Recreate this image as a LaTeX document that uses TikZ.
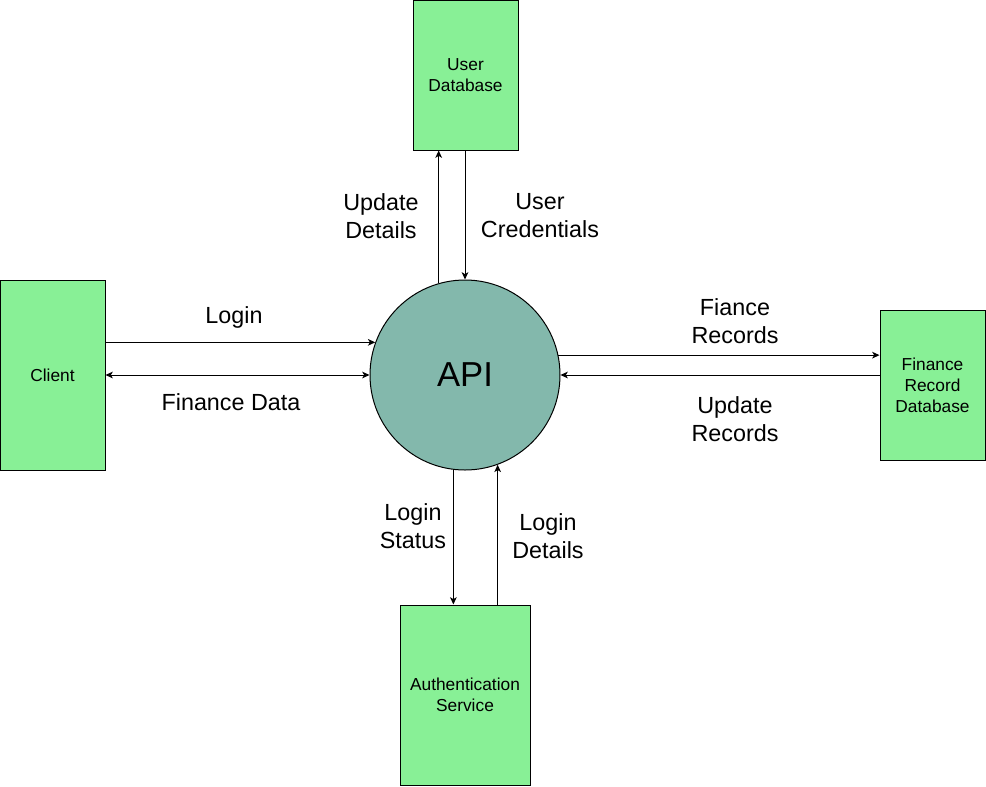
\documentclass[tikz,border=0pt]{standalone}
\usepackage{fontspec}
\setmainfont{Liberation Sans}
\usetikzlibrary{arrows.meta}
\tikzstyle{every path}=[line width=0.75pt]
\tikzstyle{store} = [draw=black, fill=storegreen, inner sep=0pt, align=center,
    font=\fontsize{13}{15.75}\selectfont]
\tikzstyle{process} = [draw=black, fill=processteal, circle, inner sep=0pt,
    minimum size=142.5pt, font=\fontsize{26}{30}\selectfont]
\tikzstyle{flowlabel} = [align=center, inner sep=0pt,
    font=\fontsize{17.5}{21}\selectfont]
\tikzstyle{flow} = [-{Stealth[length=5.5pt, width=5pt, inset=1.5pt]}]
\tikzstyle{twoflow} = [{Stealth[length=5.5pt, width=5pt, inset=1.5pt]}-{Stealth[length=5.5pt, width=5pt, inset=1.5pt]}]
\definecolor{storegreen}{RGB}{136,240,150}
\definecolor{processteal}{RGB}{131,184,172}

\begin{document}
\begin{tikzpicture}[x=0.75pt, y=-0.75pt]
            \useasboundingbox (0, 0) rectangle (986, 786);

            \node[process] (api) at (465, 375) {API};

            \node[store, minimum width=78.75pt, minimum height=142.5pt]
                (client) at (52.5, 375) {Client};
            \node[store, minimum width=78.75pt, minimum height=112.5pt]
                (userdb) at (465.5, 75) {User\\Database};
            \node[store, minimum width=78.75pt, minimum height=112.5pt]
                (financedb) at (932.5, 385) {Finance\\Record\\Database};
            \node[store, minimum width=97.5pt, minimum height=135pt]
                (authservice) at (465, 695) {Authentication\\Service};

            \draw[flow] (client.east |- api.160) -- (api.160);
            \draw[twoflow] (client) -- (api);
            \node[flowlabel] (login) at (234, 317) {Login};
            \node[flowlabel] (financedata) at (231, 402) {Finance Data};

            \draw[flow] (api.106) -- (userdb.south -| api.106);
            \draw[flow] (userdb.south -| api.north) -- (api.north);
            \node[flowlabel] (updatedetails) at (381, 216) {Update\\Details};
            \node[flowlabel] (usercred) at (540, 216) {User\\Credentials};

            \draw[flow] (api.12) -- (financedb.west |- api.12);
            \draw[flow] (financedb.west |- api.east) -- (api.east);
            \node[flowlabel] (fiancerec) at (735, 321) {Fiance\\Records};
            \node[flowlabel] (updaterec) at (735, 419) {Update\\Records};

            \draw[flow] (api.263) -- (authservice.north -| api.263);
            \draw[flow] (authservice.north -| api.290) -- (api.290);
            \node[flowlabel] (loginstatus) at (413, 526) {Login\\Status};
            \node[flowlabel] (logindetails) at (548, 536) {Login\\Details};
        \end{tikzpicture}
\end{document}
